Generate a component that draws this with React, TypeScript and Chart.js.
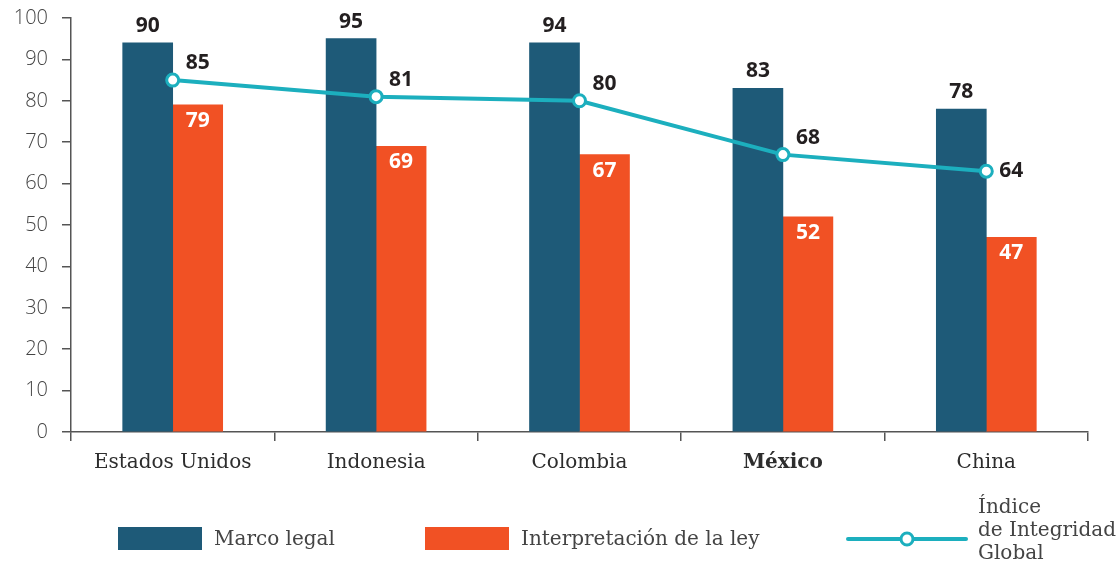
import React, { useEffect, useRef } from 'react';
import { Chart, registerables } from 'chart.js';

Chart.register(...registerables);

const categories = ['Estados Unidos', 'Indonesia', 'Colombia', 'México', 'China'];
const marcoLegal = [94, 95, 94, 83, 78];
const marcoLegalLabels = ['90', '95', '94', '83', '78'];
const interpretacion = [79, 69, 67, 52, 47];
const interpretacionLabels = ['79', '69', '67', '52', '47'];
const indice = [85, 81, 80, 67, 63];
const indiceLabels = ['85', '81', '80', '68', '64'];
const seriesNames = ['Marco legal', 'Interpretación de la ley', ['Índice', 'de Integridad', 'Global']];
const highlightCategory = 'México';

const DARK = '#1e5a78';
const ORANGE = '#f15124';
const TEAL = '#1cafbe';
const AXIS = '#555555';
const TEXT = '#444444';
const VALUE = '#231f20';
const SANS = '"Open Sans", "DejaVu Sans", sans-serif';
const SLAB = '"DejaVu Serif", serif';

const valueLabels = {
  id: 'valueLabels',
  afterDatasetsDraw(chart: any) {
    const ctx = chart.ctx;
    ctx.save();
    ctx.font = `700 21px ${SANS}`;
    ctx.textBaseline = 'middle';
    ctx.textAlign = 'center';
    chart.getDatasetMeta(0).data.forEach((el: any, i: number) => {
      ctx.fillStyle = VALUE;
      ctx.fillText(marcoLegalLabels[i], el.x, el.y - 17);
    });
    chart.getDatasetMeta(1).data.forEach((el: any, i: number) => {
      ctx.fillStyle = '#ffffff';
      ctx.fillText(interpretacionLabels[i], el.x, el.y + 16);
    });
    ctx.textAlign = 'left';
    const pts = chart.getDatasetMeta(2).data;
    pts.forEach((el: any, i: number) => {
      const last = i === pts.length - 1;
      ctx.fillStyle = VALUE;
      ctx.fillText(indiceLabels[i], el.x + 13, last ? el.y : el.y - 17);
    });
    ctx.restore();
  },
};

const customLegend = {
  id: 'customLegend',
  afterDraw(chart: any) {
    const ctx = chart.ctx;
    const cy = 539;
    ctx.save();
    ctx.font = `20px ${SLAB}`;
    ctx.textBaseline = 'middle';
    ctx.textAlign = 'left';
    ctx.fillStyle = DARK;
    ctx.fillRect(118, cy - 12, 84, 23);
    ctx.fillStyle = TEXT;
    ctx.fillText(seriesNames[0] as string, 214, cy + 1);
    ctx.fillStyle = ORANGE;
    ctx.fillRect(425, cy - 12, 84, 23);
    ctx.fillStyle = TEXT;
    ctx.fillText(seriesNames[1] as string, 521, cy + 1);
    ctx.strokeStyle = TEAL;
    ctx.lineWidth = 4;
    ctx.lineCap = 'round';
    ctx.beginPath();
    ctx.moveTo(848, cy);
    ctx.lineTo(966, cy);
    ctx.stroke();
    ctx.beginPath();
    ctx.arc(907, cy, 6, 0, Math.PI * 2);
    ctx.fillStyle = '#ffffff';
    ctx.fill();
    ctx.lineWidth = 3;
    ctx.stroke();
    ctx.fillStyle = TEXT;
    (seriesNames[2] as string[]).forEach((t, i) => {
      ctx.fillText(t, 978, cy - 31 + i * 23);
    });
    ctx.restore();
  },
};

export default function App() {
  const ref = useRef<HTMLCanvasElement | null>(null);
  useEffect(() => {
    if (!ref.current) return;
    const chart = new Chart(ref.current, {
      type: 'bar',
      data: {
        labels: categories,
        datasets: [
          {
            type: 'bar',
            label: seriesNames[0] as string,
            data: marcoLegal,
            backgroundColor: DARK,
            barThickness: 50,
            order: 1,
          },
          {
            type: 'bar',
            label: seriesNames[1] as string,
            data: interpretacion,
            backgroundColor: ORANGE,
            barThickness: 50,
            order: 1,
          },
          {
            type: 'line',
            label: 'Índice de Integridad Global',
            data: indice,
            borderColor: TEAL,
            borderWidth: 4,
            pointRadius: 6,
            pointBorderWidth: 3,
            pointBackgroundColor: '#ffffff',
            pointBorderColor: TEAL,
            tension: 0,
            order: 0,
          } as any,
        ],
      },
      options: {
        animation: false,
        responsive: true,
        maintainAspectRatio: false,
        layout: { padding: { top: 18, right: 31, bottom: 83, left: 0 } },
        plugins: {
          legend: { display: false },
          tooltip: { enabled: false },
        },
        scales: {
          x: {
            grid: {
              offset: true,
              drawOnChartArea: false,
              drawTicks: true,
              tickLength: 9,
              color: AXIS,
              lineWidth: 1.5,
            },
            border: { display: true, color: AXIS, width: 1.5 },
            ticks: {
              padding: 10,
              color: '#2d2d2d',
              font: (c: any) => ({
                family: SLAB,
                size: 20,
                weight: categories[c.index] === highlightCategory ? 'bold' : 'normal',
              }),
            },
            afterFit(scale: any) {
              scale.height = 50;
              scale.paddingLeft = 0;
              scale.paddingRight = 0;
            },
          },
          y: {
            min: 0,
            max: 100,
            ticks: {
              stepSize: 10,
              padding: 14,
              color: TEXT,
              font: { family: SANS, size: 20, weight: 300 },
            },
            grid: {
              drawOnChartArea: false,
              drawTicks: true,
              tickLength: 9,
              color: AXIS,
              lineWidth: 1.5,
            },
            border: { display: true, color: AXIS, width: 1.5 },
            afterFit(scale: any) {
              scale.width = 71;
              scale.paddingTop = 0;
              scale.paddingBottom = 0;
            },
          },
        },
      },
      plugins: [valueLabels, customLegend],
    });
    return () => chart.destroy();
  }, []);
  return (
    <div style={{ position: 'absolute', left: 0, top: 0, width: 1119, height: 565, background: '#fff' }}>
      <canvas ref={ref} />
    </div>
  );
}
